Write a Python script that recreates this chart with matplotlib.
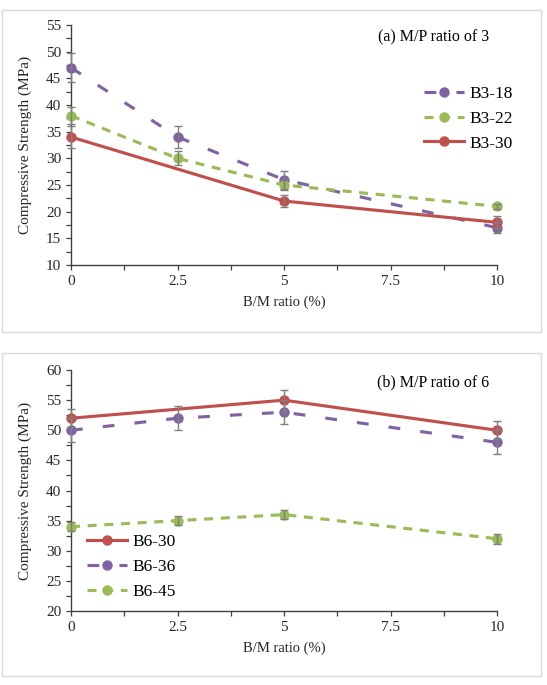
import matplotlib
matplotlib.use("Agg")
import matplotlib.pyplot as plt
from matplotlib.patches import Rectangle
from matplotlib.ticker import MultipleLocator

plt.rcParams["font.family"] = ["Liberation Serif", "DejaVu Serif"]
plt.rcParams["lines.scale_dashes"] = False

# (a) M/P ratio of 3
x_b3_18 = [0, 2.5, 5, 10]
y_b3_18 = [47, 34, 26, 17]
e_b3_18 = [2.7, 2.0, 1.7, 1.0]
x_b3_22 = [0, 2.5, 5, 10]
y_b3_22 = [38, 30, 25, 21]
e_b3_22 = [1.6, 1.3, 1.0, 0.5]
x_b3_30 = [0, 5, 10]
y_b3_30 = [34, 22, 18]
e_b3_30 = [2.0, 1.2, 1.1]

# (b) M/P ratio of 6
x_b6_30 = [0, 5, 10]
y_b6_30 = [52, 55, 50]
e_b6_30 = [1.5, 1.7, 1.5]
x_b6_36 = [0, 2.5, 5, 10]
y_b6_36 = [50, 52, 53, 48]
e_b6_36 = [2.0, 2.0, 2.0, 2.0]
x_b6_45 = [0, 2.5, 5, 10]
y_b6_45 = [34, 35, 36, 32]
e_b6_45 = [0.8, 0.8, 0.8, 0.8]

PURPLE = "#8064A2"
GREEN = "#9BBB59"
RED = "#C0504D"
ERR = "#7F7F7F"
AXC = "#404040"
TXT = "#262626"

styles = {
    "purple": dict(color=PURPLE, dashes=(8.5, 14.5)),
    "green": dict(color=GREEN, dashes=(6.5, 5.5)),
    "red": dict(color=RED, linestyle="-"),
}

fig = plt.figure(figsize=(5.47, 6.85), dpi=100)

# chart-area borders
for y0, h in [(0.5153, 0.4701), (0.0131, 0.4715)]:
    fig.patches.append(Rectangle((0.0037, y0), 0.9854, h, transform=fig.transFigure,
                                 fill=False, edgecolor="#D9D9D9", linewidth=1.0))


def draw_series(ax, x, y, e, label, style):
    ax.errorbar(x, y, yerr=e, fmt="none", ecolor=ERR, elinewidth=1.0,
                capsize=3, capthick=1.0, zorder=4, clip_on=False)
    ax.plot(x, y, marker="o", markersize=6.5, linewidth=2.25, label=label,
            zorder=3, clip_on=False, **style)


def style_axes(ax, ymin, ymax, title):
    ax.set_xlim(0, 10)
    ax.set_ylim(ymin, ymax)
    ax.xaxis.set_major_locator(MultipleLocator(2.5))
    ax.xaxis.set_minor_locator(MultipleLocator(1.25))
    ax.yaxis.set_major_locator(MultipleLocator(5))
    ax.yaxis.set_minor_locator(MultipleLocator(2.5))
    ax.set_xticks([0, 2.5, 5, 7.5, 10])
    ax.set_xticklabels(["0", "2.5", "5", "7.5", "10"])
    for s in ["top", "right"]:
        ax.spines[s].set_visible(False)
    for s in ["left", "bottom"]:
        ax.spines[s].set_color(AXC)
        ax.spines[s].set_linewidth(1.0)
    ax.tick_params(which="both", direction="out", length=3.5, width=0.9,
                   color=AXC, labelsize=11, labelcolor=TXT)
    ax.tick_params(axis="x", pad=4)
    ax.set_xlabel("B/M ratio (%)", fontsize=10.5, color=TXT, labelpad=5)
    ax.set_ylabel("Compressive Strength (MPa)", fontsize=11, color=TXT, labelpad=10)
    ax.text(0.982, 0.95, title, transform=ax.transAxes, ha="right", va="center",
            fontsize=11.5, color="black")


ax1 = fig.add_axes([0.1298, 0.6131, 0.7788, 0.3504])
draw_series(ax1, x_b3_18, y_b3_18, e_b3_18, "B3-18", styles["purple"])
draw_series(ax1, x_b3_22, y_b3_22, e_b3_22, "B3-22", styles["green"])
draw_series(ax1, x_b3_30, y_b3_30, e_b3_30, "B3-30", styles["red"])
style_axes(ax1, 10, 55, "(a) M/P ratio of 3")
ax1.legend(loc="center left", bbox_to_anchor=(0.808, 0.61), frameon=False,
           fontsize=12.5, handlelength=2.3, handletextpad=0.3,
           labelspacing=0.5, borderpad=0)

ax2 = fig.add_axes([0.1298, 0.1080, 0.7788, 0.3518])
draw_series(ax2, x_b6_30, y_b6_30, e_b6_30, "B6-30", styles["red"])
draw_series(ax2, x_b6_36, y_b6_36, e_b6_36, "B6-36", styles["purple"])
draw_series(ax2, x_b6_45, y_b6_45, e_b6_45, "B6-45", styles["green"])
style_axes(ax2, 20, 60, "(b) M/P ratio of 6")
ax2.legend(loc="center left", bbox_to_anchor=(0.018, 0.183), frameon=False,
           fontsize=12.5, handlelength=2.3, handletextpad=0.3,
           labelspacing=0.5, borderpad=0)

fig.savefig("out.png", dpi=100)
